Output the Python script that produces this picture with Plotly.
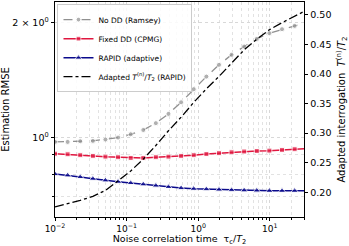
import plotly.graph_objects as go

# --- data ---
TAU = [0.01, 0.015, 0.0225, 0.0338, 0.0506, 0.0759, 0.114, 0.171, 0.256, 0.384,
       0.577, 0.865, 1.30, 1.95, 2.92, 4.38, 6.57, 9.85, 14.8, 22.2, 30.0]

RMSE_NODD = [0.972, 0.972, 0.976, 0.978, 0.986, 0.998, 1.018, 1.045, 1.089, 1.152,
             1.236, 1.338, 1.444, 1.551, 1.648, 1.733, 1.815, 1.879, 1.925, 1.964, 1.99]
RMSE_CPMG = [0.905, 0.902, 0.897, 0.893, 0.889, 0.886, 0.882, 0.882, 0.886, 0.889,
             0.893, 0.897, 0.903, 0.908, 0.913, 0.917, 0.920, 0.922, 0.926, 0.930, 0.932]
RMSE_RAPID = [0.800, 0.794, 0.786, 0.778, 0.770, 0.764, 0.758, 0.752, 0.746, 0.740,
              0.735, 0.732, 0.730, 0.728, 0.726, 0.725, 0.724, 0.723, 0.723, 0.723, 0.723]
T_ADAPT = [0.175, 0.180, 0.186, 0.193, 0.203, 0.219, 0.236, 0.256, 0.279, 0.304,
           0.327, 0.352, 0.375, 0.396, 0.418, 0.441, 0.459, 0.475, 0.487, 0.498, 0.506]

X_TICKS = [0.01, 0.1, 1, 10]
X_TICKTEXT = ["10<sup>\u22122</sup>", "10<sup>\u22121</sup>", "10<sup>0</sup>", "10<sup>1</sup>"]
X_MINOR = [0.02, 0.03, 0.04, 0.05, 0.06, 0.07, 0.08, 0.09,
           0.2, 0.3, 0.4, 0.5, 0.6, 0.7, 0.8, 0.9,
           2, 3, 4, 5, 6, 7, 8, 9, 20, 30]
Y_TICKS = [1, 2]
Y_TICKTEXT = ["10<sup>0</sup>", "2 \u00d7 10<sup>0</sup>"]
Y_MINOR = [0.7, 0.8, 0.9]
Y2_TICKS = [0.20, 0.25, 0.30, 0.35, 0.40, 0.45, 0.50]

FONT = "DejaVu Sans"
n = len(TAU)

def msizes(s):
    return [s] * (n - 1) + [0]

fig = go.Figure()
fig.add_trace(go.Scatter(
    x=TAU, y=RMSE_NODD, name="No DD (Ramsey)", mode="lines+markers",
    line=dict(color="#909090", width=1.3, dash="dash"),
    marker=dict(symbol="circle", size=msizes(5), color="#909090")))
fig.add_trace(go.Scatter(
    x=TAU, y=RMSE_CPMG, name="Fixed DD (CPMG)", mode="lines+markers",
    line=dict(color="#e0163f", width=1.5),
    marker=dict(symbol="square", size=msizes(5), color="#e0163f")))
fig.add_trace(go.Scatter(
    x=TAU, y=RMSE_RAPID, name="RAPID (adaptive)", mode="lines+markers",
    line=dict(color="#0a0a8c", width=1.5),
    marker=dict(symbol="triangle-up", size=msizes(6.5), color="#0a0a8c")))
fig.add_trace(go.Scatter(
    x=TAU, y=T_ADAPT, name="Adapted <i>T</i><sup>(n)</sup>/<i>T</i><sub>2</sub> (RAPID)",
    mode="lines", yaxis="y2",
    line=dict(color="black", width=1.3, dash="dashdot")))

fig.update_layout(
    width=349, height=246,
    margin=dict(l=55, r=45, t=2, b=29, autoexpand=False),
    paper_bgcolor="white", plot_bgcolor="white",
    font=dict(family=FONT, size=9.5, color="black"),
    showlegend=True,
    legend=dict(x=0.01, y=0.99, xanchor="left", yanchor="top",
                bgcolor="rgba(255,255,255,0.85)", bordercolor="#cccccc", borderwidth=1,
                font=dict(size=7.5, family=FONT), itemwidth=30, tracegroupgap=0),
    xaxis=dict(
        type="log", range=[-2, 1.477], automargin=False,
        tickvals=X_TICKS, ticktext=X_TICKTEXT, tickfont=dict(size=9),
        ticks="outside", ticklen=3.5, tickwidth=0.8, tickcolor="black",
        showline=True, linecolor="black", linewidth=0.8, mirror=True,
        showgrid=True, gridcolor="#d8d8d8", gridwidth=0.8, griddash="dot",
        minor=dict(tickvals=X_MINOR, ticks="outside", ticklen=2, tickcolor="black",
                   showgrid=True, gridcolor="#e2e2e2", gridwidth=0.7, griddash="dot"),
        title=dict(text="Noise correlation time  \u03c4<sub>c</sub>/<i>T</i><sub>2</sub>",
                   font=dict(size=9.5), standoff=2),
        zeroline=False),
    yaxis=dict(
        type="log", range=[-0.210, 0.356], automargin=False,
        tickvals=Y_TICKS, ticktext=Y_TICKTEXT,
        ticks="outside", ticklen=3.5, tickwidth=0.8, tickcolor="black",
        showline=True, linecolor="black", linewidth=0.8,
        showgrid=True, gridcolor="#d8d8d8", gridwidth=0.8, griddash="dot",
        minor=dict(tickvals=Y_MINOR, ticks="outside", ticklen=2, tickcolor="black",
                   showgrid=True, gridcolor="#e2e2e2", gridwidth=0.7, griddash="dot"),
        title=dict(text="Estimation RMSE", font=dict(size=10), standoff=6),
        zeroline=False),
    yaxis2=dict(
        overlaying="y", side="right", range=[0.158, 0.522], automargin=False,
        tickvals=Y2_TICKS, ticktext=["%.2f" % v for v in Y2_TICKS],
        ticks="outside", ticklen=3.5, tickwidth=0.8, tickcolor="black",
        showline=True, linecolor="black", linewidth=0.8,
        showgrid=False, zeroline=False,
        title=dict(text="Adapted interrogation  <i>T</i><sup>(n)</sup>/<i>T</i><sub>2</sub>",
                   font=dict(size=10), standoff=10)),
)

fig.write_html("out.html", config={"displayModeBar": False},
               post_script="document.body.style.margin='0px';")
